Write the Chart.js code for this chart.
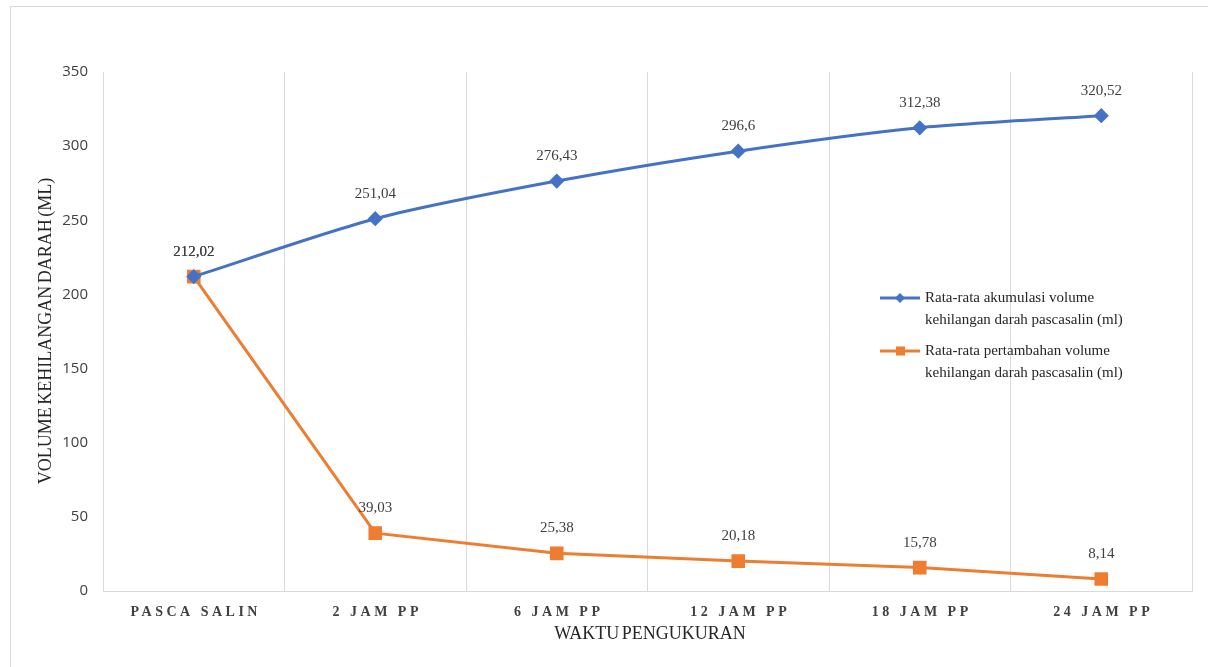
<!DOCTYPE html>
<html>
<head>
<meta charset="utf-8">
<script src="https://cdn.jsdelivr.net/npm/chart.js@4.4.1/dist/chart.umd.min.js"></script>
<style>
    html, body { margin: 0; padding: 0; background: #fff; }
    #wrap { position: relative; width: 1208px; height: 667px; overflow: hidden; }
    #frame { position: absolute; left: 10px; top: 6px; width: 1300px; height: 800px; border: 1px solid #d9d9d9; box-sizing: border-box; }
    #chartBox { position: absolute; left: 0; top: 0; width: 1208px; height: 667px; }
</style>
</head>
<body>
<div id="wrap">
    <div id="frame"></div>
    <div id="chartBox"><canvas id="bloodChart"></canvas></div>
</div>
<script>
// --- Data ---
const categories = ['PASCA SALIN', '2 JAM PP', '6 JAM PP', '12 JAM PP', '18 JAM PP', '24 JAM PP'];
const akumulasi = [212.02, 251.04, 276.43, 296.6, 312.38, 320.52];
const pertambahan = [212.02, 39.03, 25.38, 20.18, 15.78, 8.14];
const seriesNames = [
    ['Rata-rata akumulasi volume', 'kehilangan darah pascasalin (ml)'],
    ['Rata-rata pertambahan volume', 'kehilangan darah pascasalin (ml)']
];
const yTicks = [0, 50, 100, 150, 200, 250, 300, 350];

const blue = '#4472C4';
const orange = '#ED7D31';
const serif = '"Liberation Serif", "Times New Roman", serif';

function fmt(v) {
    return String(v).replace('.', ',');
}

// Draws value labels, x tick labels (letter-spaced), axis titles and the legend
const extrasPlugin = {
    id: 'extras',
    afterDraw(chart) {
        const ctx = chart.ctx;
        const xs = chart.scales.x;
        const area = chart.chartArea;
        ctx.save();

        // value labels above points
        ctx.font = '15px ' + serif;
        ctx.fillStyle = '#404040';
        ctx.textAlign = 'center';
        ctx.textBaseline = 'middle';
        chart.data.datasets.forEach(function(ds, i) {
            chart.getDatasetMeta(i).data.forEach(function(pt, j) {
                ctx.fillText(fmt(ds.data[j]), pt.x, pt.y - 25);
            });
        });

        // category labels with letter spacing
        ctx.font = 'bold 14px ' + serif;
        ctx.fillStyle = '#404040';
        ctx.letterSpacing = '3.5px';
        categories.forEach(function(c, i) {
            ctx.fillText(c, xs.getPixelForValue(i) + 2, area.bottom + 21);
        });
        ctx.letterSpacing = '0px';

        // axis titles (tight word spacing like the original)
        ctx.font = '18px ' + serif;
        ctx.fillStyle = '#262626';
        ctx.wordSpacing = '-2px';
        ctx.fillText('WAKTU PENGUKURAN', 650, area.bottom + 43);
        ctx.save();
        ctx.translate(46, 331);
        ctx.rotate(-Math.PI / 2);
        ctx.fillText('VOLUME KEHILANGAN DARAH (ML)', 0, 0);
        ctx.restore();
        ctx.wordSpacing = '0px';

        // legend
        ctx.font = '15px ' + serif;
        const lx = 880, ly = [298, 351];
        const cols = [blue, orange];
        ly.forEach(function(y, i) {
            ctx.strokeStyle = cols[i];
            ctx.lineWidth = 3;
            ctx.beginPath();
            ctx.moveTo(lx, y);
            ctx.lineTo(lx + 40, y);
            ctx.stroke();
            ctx.fillStyle = cols[i];
            ctx.beginPath();
            if (i === 0) {
                ctx.moveTo(lx + 20, y - 5);
                ctx.lineTo(lx + 25, y);
                ctx.lineTo(lx + 20, y + 5);
                ctx.lineTo(lx + 15, y);
                ctx.closePath();
            } else {
                ctx.rect(lx + 16, y - 4.5, 9, 9);
            }
            ctx.fill();
            ctx.fillStyle = '#262626';
            ctx.textAlign = 'left';
            ctx.fillText(seriesNames[i][0], lx + 45, y);
            ctx.fillText(seriesNames[i][1], lx + 45, y + 22);
        });

        ctx.restore();
    }
};

const ctx = document.getElementById('bloodChart').getContext('2d');
new Chart(ctx, {
    type: 'line',
    data: {
        labels: categories,
        datasets: [{
            label: seriesNames[0].join(' '),
            data: akumulasi,
            borderColor: blue,
            backgroundColor: blue,
            borderWidth: 3,
            pointStyle: 'rectRot',
            pointRadius: 5.5,
            pointHoverRadius: 5.5,
            tension: 0.25
        }, {
            label: seriesNames[1].join(' '),
            data: pertambahan,
            borderColor: orange,
            backgroundColor: orange,
            borderWidth: 3,
            pointStyle: 'rect',
            pointRadius: 7.5,
            pointHoverRadius: 7.5,
            tension: 0
        }]
    },
    options: {
        responsive: true,
        maintainAspectRatio: false,
        animation: false,
        layout: { padding: { top: 72, right: 16, left: 0, bottom: 0 } },
        plugins: {
            legend: { display: false },
            tooltip: { enabled: false }
        },
        scales: {
            x: {
                offset: true,
                grid: { display: true, offset: true, color: '#d9d9d9', lineWidth: 1, drawTicks: false },
                border: { display: true, color: '#d9d9d9' },
                ticks: { color: 'transparent', font: { size: 14 } },
                afterFit: function(scale) { scale.height = 76; }
            },
            y: {
                min: 0,
                max: 350,
                afterBuildTicks: function(scale) {
                    scale.ticks = yTicks.map(function(v) { return { value: v }; });
                },
                grid: { display: false },
                border: { display: true, color: '#d9d9d9' },
                ticks: {
                    color: '#404040',
                    padding: 7,
                    font: { family: '"Open Sans", "Liberation Sans", sans-serif', size: 15 }
                },
                afterFit: function(scale) { scale.width = 103; }
            }
        }
    },
    plugins: [extrasPlugin]
});
</script>
</body>
</html>
